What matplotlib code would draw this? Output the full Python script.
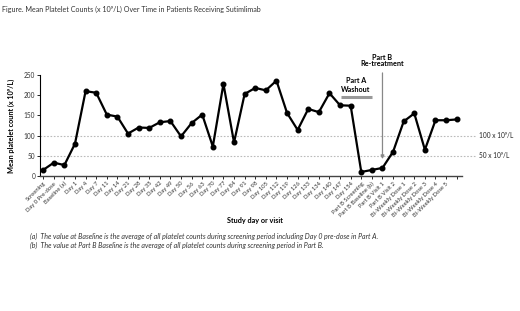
import matplotlib
matplotlib.use("Agg")
import matplotlib.pyplot as plt

plt.rcParams['font.family'] = ['Lato', 'DejaVu Sans']

labels = ["Screening", "Day 0 Pre-dose", "Baseline (a)", "Day 1", "Day 4", "Day 7",
          "Day 11", "Day 14", "Day 21", "Day 28", "Day 35", "Day 42", "Day 49",
          "Day 50", "Day 56", "Day 63", "Day 70", "Day 77", "Day 84", "Day 91",
          "Day 98", "Day 105", "Day 112", "Day 119", "Day 126", "Day 133",
          "Day 134", "Day 140", "Day 147", "Day 154", "Part B Screening",
          "Part B Baseline (b)", "Part B Visit 1", "Part B Visit 2",
          "Bi-Weekly Dose 1", "Bi-Weekly Dose 2", "Bi-Weekly Dose 3",
          "Bi-Weekly Dose 4", "Bi-Weekly Dose 5", ""]
platelets = [15, 33, 27, 80, 210, 206, 152, 147, 105, 120, 119, 133, 136,
             98, 131, 152, 73, 228, 83, 203, 218, 212, 236, 156, 114, 166,
             158, 205, 175, 174, 10, 15, 20, 60, 135, 155, 65, 138, 138, 140]
ref_levels = [100, 50]
ref_texts = ["100 x 10\u2079/L", "50 x 10\u2079/L"]

W, H = 520, 311
fig = plt.figure(figsize=(W / 100, H / 100), dpi=100)
ax = fig.add_axes([40 / W, 1 - 176 / H, (462 - 40) / W, (176 - 75) / H])

x = list(range(len(platelets)))
ax.plot(x, platelets, color='black', lw=1.6, marker='o', ms=3.3, zorder=3)

for lvl, txt in zip(ref_levels, ref_texts):
    ax.plot([0, 1.03], [lvl, lvl], transform=ax.get_yaxis_transform(),
            color='#bbbbbb', lw=0.8, ls=(0, (1.5, 1.5)), clip_on=False, zorder=1)
    ax.text(1.04, lvl, txt, transform=ax.get_yaxis_transform(), fontsize=4.7,
            va='center', ha='left', color='#222222')

ax.set_xlim(-0.3, 39.5)
ax.set_ylim(0, 250)
ax.set_yticks([0, 50, 100, 150, 200, 250])
ax.set_xticks(x)
ax.set_xticklabels(labels, rotation=45, ha='right', rotation_mode='anchor', fontsize=4.2,
                   color='#333333')
ax.tick_params(axis='both', direction='out', length=2, width=0.6, pad=1.5)
ax.tick_params(axis='y', labelsize=4.7, labelcolor='#333333')
for s in ['top', 'right']:
    ax.spines[s].set_visible(False)
ax.spines['left'].set_linewidth(0.8)
ax.spines['bottom'].set_linewidth(1.0)
ax.spines['bottom'].set_color('#444444')

ax.set_ylabel("Mean platelet count (x 10\u2079/L)", fontsize=5.2, fontweight='bold', labelpad=6)

# Part B retreatment arrow
ax.annotate("", xy=(32, 35), xytext=(32, 262),
            arrowprops=dict(arrowstyle='-|>', color='#888888', lw=0.9, mutation_scale=5),
            annotation_clip=False)
ax.text(32, 293, "Part B", ha='center', va='center', fontsize=5.2, fontweight='bold', clip_on=False)
ax.text(32, 278, "Re-treatment", ha='center', va='center', fontsize=5.2, fontweight='bold', clip_on=False)

# Part A washout
ax.text(29.5, 237, "Part A", ha='center', va='center', fontsize=5.2, fontweight='bold')
ax.text(29.5, 214, "Washout", ha='center', va='center', fontsize=5.2, fontweight='bold')
ax.plot([28.05, 31.05], [196, 196], color='#999999', lw=2.2, solid_capstyle='butt')

fig.text(2 / W, 1 - 9 / H,
         "Figure. Mean Platelet Counts (x 10\u2079/L) Over Time in Patients Receiving Sutimlimab",
         fontsize=5.1, va='center', ha='left', color='#333333')
fig.text(255 / W, 1 - 220 / H, "Study day or visit", fontsize=5.2, fontweight='bold',
         ha='center', va='center')
fig.text(30 / W, 1 - 236 / H,
         "(a)  The value at Baseline is the average of all platelet counts during screening period including Day 0 pre-dose in Part A.",
         fontsize=5.0, style='italic', ha='left', va='center', color='#333333')
fig.text(30 / W, 1 - 245 / H,
         "(b)  The value at Part B Baseline is the average of all platelet counts during screening period in Part B.",
         fontsize=5.0, style='italic', ha='left', va='center', color='#333333')

fig.savefig("out.png", dpi=100, facecolor='white')
